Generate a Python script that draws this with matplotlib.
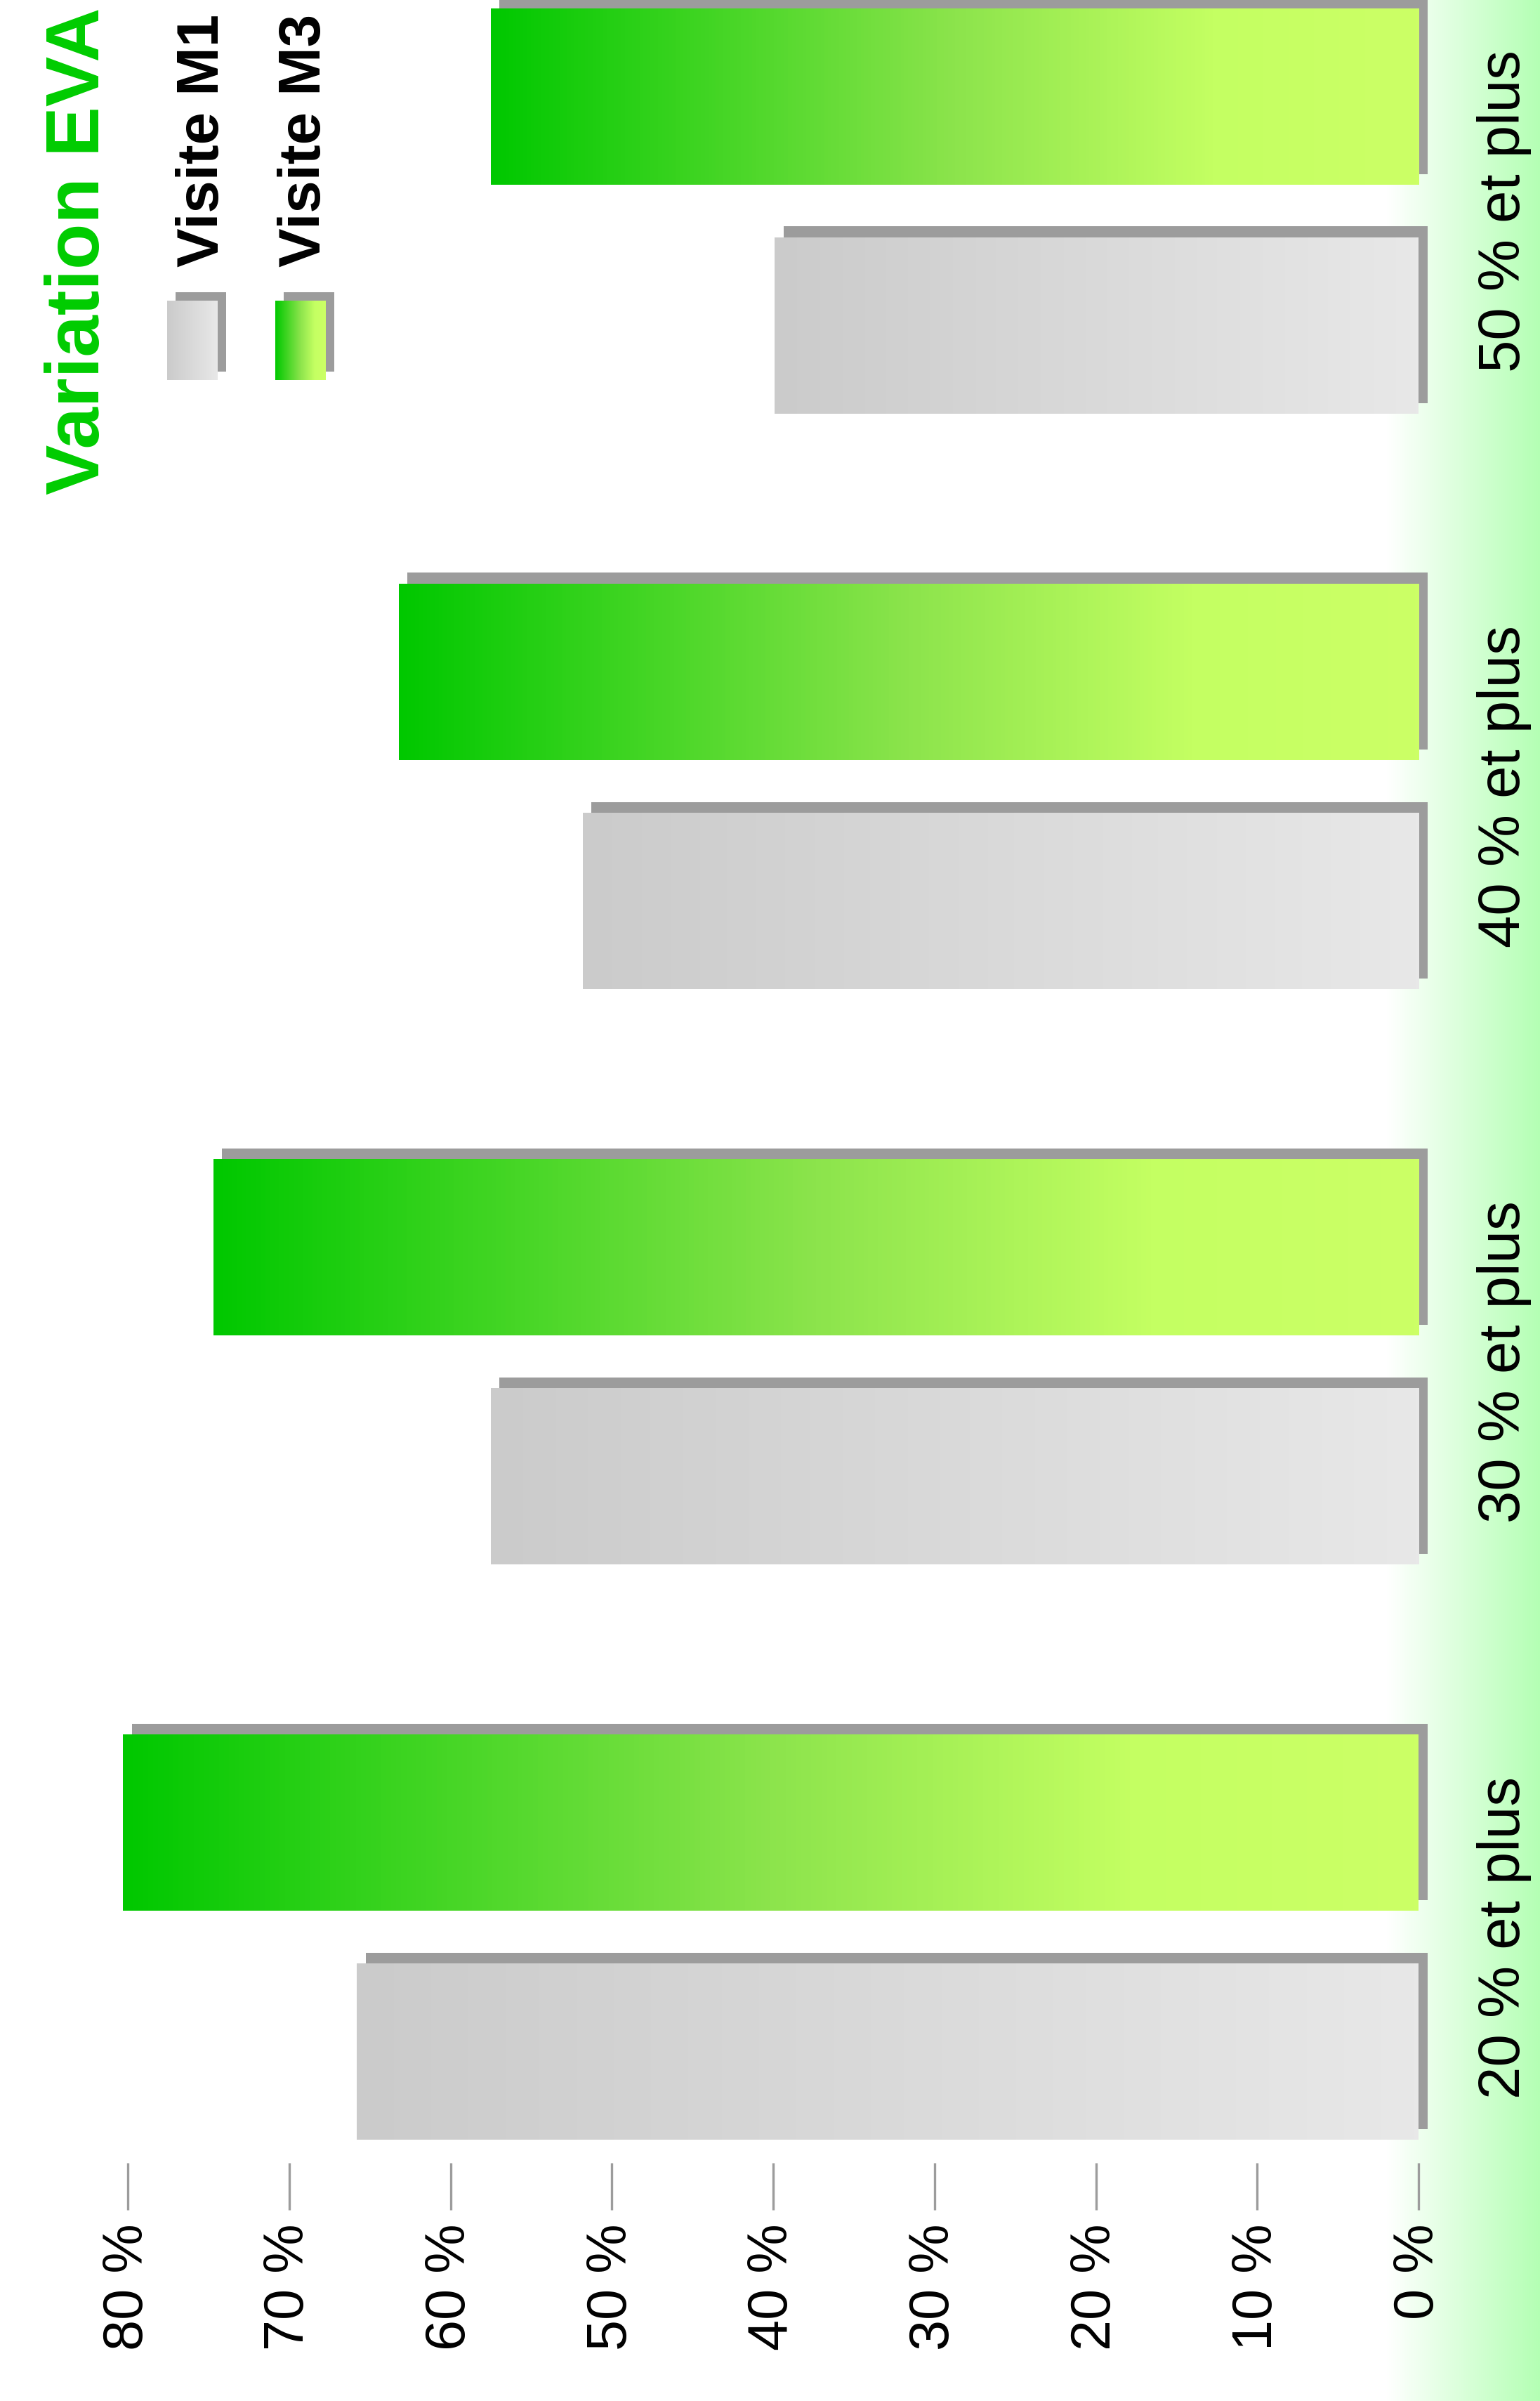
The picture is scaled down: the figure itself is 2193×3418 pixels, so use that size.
import numpy as np
import matplotlib.pyplot as plt
from matplotlib.colors import LinearSegmentedColormap
from matplotlib.patches import Rectangle

# données
categories = ["20 % et plus", "30 % et plus", "40 % et plus", "50 % et plus"]
series_names = ["Visite M1", "Visite M3"]
visite_m1 = [65.8, 57.5, 51.8, 39.9]
visite_m3 = [80.3, 74.7, 63.2, 57.5]
ticks = [0, 10, 20, 30, 40, 50, 60, 70, 80]
tick_labels = [f"{t} %" for t in ticks]
title = "Variation EVA"

# dégradés
gray_cmap = LinearSegmentedColormap.from_list("gris", ["#cbcbcb", "#e8e8e8"])
green_cmap = LinearSegmentedColormap.from_list(
    "vert", [(0, "#00c800"), (0.5, "#8ce44c"), (0.78, "#c4ff62"), (1, "#ccff66")])
bg_cmap = LinearSegmentedColormap.from_list("fond", ["#ffffff", "#b4ffb4"])
shadow = "#9c9c9c"
grad = np.linspace(0, 1, 256)[None, :]

plt.rcParams['font.family'] = ['Liberation Sans', 'DejaVu Sans']

W, H = 2193, 3418
fig = plt.figure(figsize=(W / 100, H / 100), dpi=100)

# ========================
#  Fond + légende (pixels)
# ========================
bg = fig.add_axes([0, 0, 1, 1], zorder=0)
bg.imshow(grad, extent=(1975, W, H, 0), cmap=bg_cmap, aspect='auto')

bg.text(141, 704, title, rotation=90, rotation_mode='anchor', ha='left',
        va='baseline', fontsize=77, fontweight='bold', color='#00cc00')

leg_x = [238, 392]
leg_text_x = [311, 456]
for name, cmap, x0, tx in zip(series_names, [gray_cmap, green_cmap], leg_x, leg_text_x):
    bg.add_patch(Rectangle((x0 + 12, 416), 72, 113, color=shadow, lw=0))
    bg.imshow(grad, extent=(x0, x0 + 72, 541, 428), cmap=cmap, aspect='auto', zorder=2)
    bg.text(tx, 380, name, rotation=90, rotation_mode='anchor', ha='left',
            va='baseline', fontsize=60, fontweight='bold', color='black')

bg.set_xlim(0, W)
bg.set_ylim(H, 0)
bg.axis('off')

# ========================
#  Barres
# ========================
x_zero, px_unit = 2020, 22.975
x_max = 82
left_px = x_zero - x_max * px_unit
bottom_px = 3079
ax = fig.add_axes([left_px / W, (H - bottom_px) / H, (x_zero - left_px) / W, bottom_px / H],
                  zorder=1)
ax.set_facecolor('none')

group_px = 819
ypos = np.arange(len(categories))
bar_h = 251 / group_px
off = 163 / group_px
dx = 12.5 / px_unit
dy = 16 / group_px

for vals, cmap, sign in [(visite_m1, gray_cmap, -1), (visite_m3, green_cmap, 1)]:
    yc = ypos + sign * off
    ax.barh(yc + dy, vals, left=-dx, height=bar_h, color=shadow, clip_on=False, zorder=1)
    for y, v in zip(yc, vals):
        ax.imshow(grad, extent=(v, 0, y - bar_h / 2, y + bar_h / 2), cmap=cmap,
                  aspect='auto', zorder=2)

ax.set_xlim(x_max, 0)
ax.set_ylim(-(bottom_px - 2758) / group_px, 2758 / group_px)

ax.set_xticks(ticks, tick_labels, rotation=90, fontsize=57)
ax.set_yticks(ypos, categories, rotation=90, fontsize=60)
ax.yaxis.tick_right()
for lbl in ax.get_yticklabels():
    lbl.set_va('center')
ax.tick_params(axis='x', length=48, width=2.4, color=shadow, pad=14)
ax.tick_params(axis='y', length=0, pad=60)
for s in ax.spines.values():
    s.set_visible(False)

fig.savefig("out.png", dpi=100)
